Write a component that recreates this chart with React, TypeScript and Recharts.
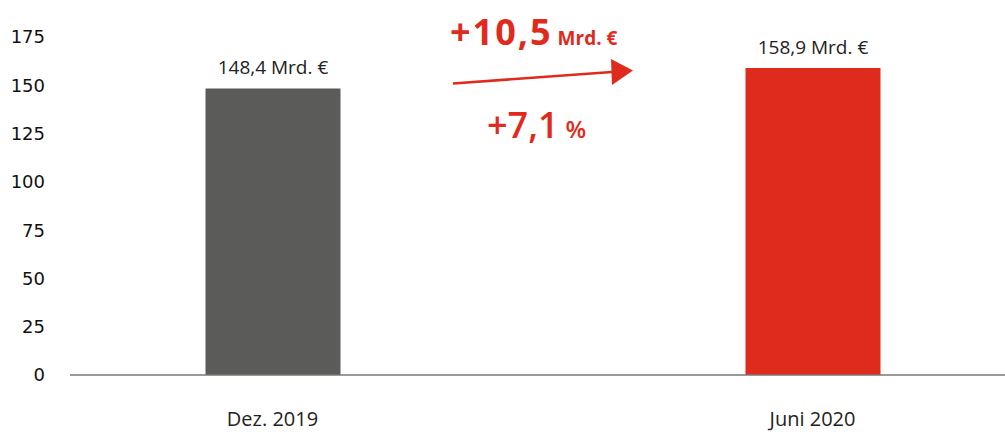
import React from 'react'
import { BarChart, Bar, XAxis, YAxis, Cell, LabelList } from 'recharts'

const categories = ['Dez. 2019', 'Juni 2020']
const volumes = [148.4, 158.9]
const valueLabels = ['148,4 Mrd. €', '158,9 Mrd. €']
const yTicks = [0, 25, 50, 75, 100, 125, 150, 175]
const changeAbs = '+10,5'
const changePct = '+7,1'

const BAR_COLORS = ['#5B5B5A', '#DE2B1D']
const RED = '#DE2B1D'
const LABEL_FONT = '"Open Sans", sans-serif'

const data = categories.map((name, i) => ({ name, value: volumes[i], label: valueLabels[i] }))

export default function App() {
  return (
    <div style={{ position: 'absolute', left: 0, top: 0, width: 1005, height: 432, background: '#fff' }}>
      <BarChart width={1005} height={432} data={data} margin={{ top: 37, right: 0, bottom: 0, left: 10 }}>
        <XAxis
          dataKey="name"
          height={57}
          padding={{ left: -67.5, right: -77.5 }}
          axisLine={{ stroke: '#777', strokeWidth: 1.5 }}
          tickLine={false}
          tickMargin={31}
          tick={{ fontSize: 20, fill: '#222', fontFamily: LABEL_FONT }}
        />
        <YAxis
          width={60}
          domain={[0, 175]}
          ticks={yTicks}
          axisLine={false}
          tickLine={false}
          tickMargin={19}
          tick={{ fontSize: 18, fill: '#111', fontFamily: '"DejaVu Sans", sans-serif' }}
        />
        <Bar dataKey="value" barSize={135} isAnimationActive={false}>
          {data.map((d, i) => (
            <Cell key={d.name} fill={BAR_COLORS[i]} />
          ))}
          <LabelList
            dataKey="label"
            position="top"
            offset={14}
            style={{ fontSize: 19, fill: '#222', fontFamily: LABEL_FONT }}
          />
        </Bar>
      </BarChart>
      <svg
        width={1005}
        height={432}
        style={{ position: 'absolute', left: 0, top: 0, pointerEvents: 'none' }}
      >
        <text x={450} y={45} fill={RED} fontFamily={LABEL_FONT} fontWeight={700}>
          <tspan fontSize={36} letterSpacing={2}>{changeAbs}</tspan>
          <tspan fontSize={19} dx={5}>Mrd. €</tspan>
        </text>
        <line x1={453} y1={83.5} x2={612} y2={72} stroke={RED} strokeWidth={2.5} />
        <polygon points="611,59 633,70.5 612,85" fill={RED} />
        <text x={487} y={138} fill={RED} fontFamily={LABEL_FONT} fontWeight={600}>
          <tspan fontSize={36}>{changePct}</tspan>
          <tspan fontSize={24} dx={7}>%</tspan>
        </text>
      </svg>
    </div>
  )
}
